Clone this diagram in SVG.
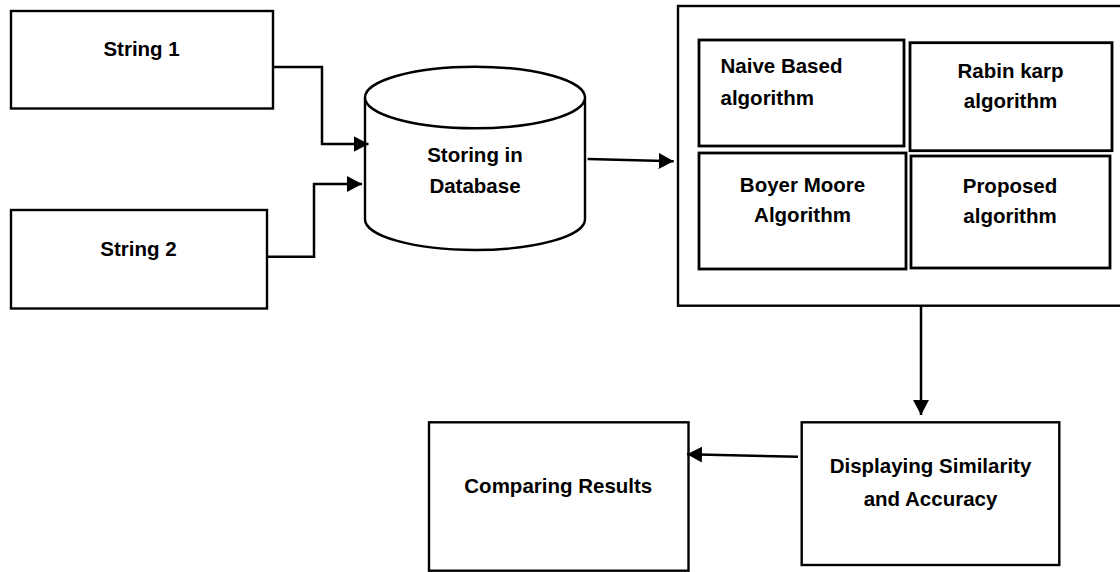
<svg xmlns="http://www.w3.org/2000/svg" width="1120" height="572" viewBox="0 0 1120 572">
<style>
.box{fill:#fff;stroke:#000;stroke-width:2.4}
.inner{fill:#fff;stroke:#000;stroke-width:2.8}
.lbl{font-family:"Liberation Sans",Arial,sans-serif;font-weight:bold;font-size:20.5px;fill:#000;text-anchor:middle}
.left{text-anchor:start}
.conn{fill:none;stroke:#000;stroke-width:2.5}
</style>
<defs>
<marker id="arr" markerUnits="userSpaceOnUse" markerWidth="16" markerHeight="17" refX="15" refY="8" orient="auto">
<path d="M0,0 L15,8 L0,16 Z" fill="#000"/>
</marker>
</defs>
<rect width="1120" height="572" fill="#fff"/>
<g id="string1">
<rect class="box" x="11" y="11" width="262" height="97.5"/>
<text class="lbl" x="141.6" y="56">String 1</text>
</g>
<g id="string2">
<rect class="box" x="11" y="210" width="256" height="98.5"/>
<text class="lbl" x="138.5" y="256">String 2</text>
</g>
<g id="database">
<path class="box" d="M365,97.5 L365,219.2 A110,30.8 0 0 0 585,219.2 L585,97.5"/>
<ellipse class="box" cx="475" cy="97.5" rx="110" ry="30.8"/>
<text class="lbl" x="475" y="162">Storing in</text>
<text class="lbl" x="475" y="193.3">Database</text>
</g>
<g id="algorithms">
<rect class="box" x="678" y="6" width="450" height="299.7"/>
<g id="naive">
<rect class="inner" x="699" y="40" width="205" height="106"/>
<text class="lbl left" x="720.5" y="73.3">Naive Based</text>
<text class="lbl left" x="720.5" y="105">algorithm</text>
</g>
<g id="rabin">
<rect class="inner" x="910" y="42.7" width="202" height="108"/>
<text class="lbl" x="1010.5" y="78">Rabin karp</text>
<text class="lbl" x="1010.5" y="108">algorithm</text>
</g>
<g id="boyer">
<rect class="inner" x="699" y="153" width="207" height="116"/>
<text class="lbl" x="802.5" y="191.7">Boyer Moore</text>
<text class="lbl" x="802.5" y="221.7">Algorithm</text>
</g>
<g id="proposed">
<rect class="inner" x="911" y="156" width="199" height="112"/>
<text class="lbl" x="1010" y="192.7">Proposed</text>
<text class="lbl" x="1010" y="222.7">algorithm</text>
</g>
</g>
<g id="displaying">
<rect class="box" x="801.7" y="422.3" width="257.6" height="142.7"/>
<text class="lbl" x="930.5" y="473.3">Displaying Similarity</text>
<text class="lbl" x="930.5" y="506">and Accuracy</text>
</g>
<g id="comparing">
<rect class="box" x="429" y="422.3" width="259.5" height="148.4"/>
<text class="lbl" x="558.3" y="493.3">Comparing Results</text>
</g>
<g id="connectors">
<path class="conn" d="M273,67 H322 V144 H368.5" marker-end="url(#arr)"/>
<path class="conn" d="M267,256.7 H314 V184 H362" marker-end="url(#arr)"/>
<path class="conn" d="M587.6,159 L673.7,161.3" marker-end="url(#arr)"/>
<path class="conn" d="M921,305.7 V415" marker-end="url(#arr)"/>
<path class="conn" d="M798,456.7 L687,454.3" marker-end="url(#arr)"/>
</g>
</svg>
